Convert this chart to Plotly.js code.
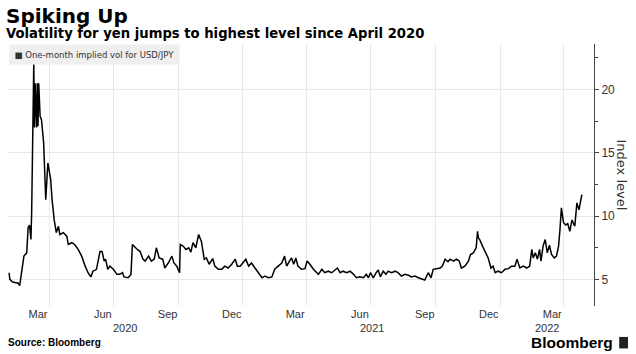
<!DOCTYPE html>
<html>
<head>
<meta charset="utf-8">
<script src="https://cdn.plot.ly/plotly-3.0.1.min.js"></script>
<style>html,body{margin:0;padding:0;background:#fff;}#chart{width:636px;height:354px;}</style>
</head>
<body>
<div id="chart"></div>
<script>
// One-month implied volatility for USD/JPY
const dates = [
"2020-02-04","2020-02-05","2020-02-09","2020-02-14","2020-02-17","2020-02-19","2020-02-22","2020-02-25","2020-02-29",
"2020-03-02","2020-03-04","2020-03-06","2020-03-07","2020-03-08","2020-03-10","2020-03-11","2020-03-12","2020-03-14",
"2020-03-15","2020-03-16","2020-03-17","2020-03-19","2020-03-21","2020-03-24","2020-03-25","2020-03-27","2020-03-30",
"2020-04-01","2020-04-03","2020-04-05","2020-04-08","2020-04-11","2020-04-14","2020-04-16","2020-04-21","2020-04-26",
"2020-04-28","2020-05-03","2020-05-07","2020-05-12","2020-05-17","2020-05-22","2020-05-26","2020-05-30","2020-06-02",
"2020-06-07","2020-06-12","2020-06-15","2020-06-18","2020-06-20","2020-06-23","2020-06-26","2020-07-01","2020-07-06",
"2020-07-10","2020-07-14","2020-07-16","2020-07-22","2020-07-26","2020-07-28","2020-08-01","2020-08-04","2020-08-08",
"2020-08-12","2020-08-15","2020-08-20","2020-08-24","2020-08-28","2020-08-31","2020-09-04","2020-09-09","2020-09-12",
"2020-09-17","2020-09-22","2020-09-25","2020-09-29","2020-10-03","2020-10-04","2020-10-08","2020-10-12","2020-10-16",
"2020-10-19","2020-10-22","2020-10-26","2020-10-30","2020-11-03","2020-11-07","2020-11-10","2020-11-14","2020-11-19",
"2020-11-22","2020-11-27","2020-12-02","2020-12-06","2020-12-11","2020-12-16","2020-12-21","2020-12-24","2020-12-28",
"2021-01-01","2021-01-05","2021-01-09","2021-01-13","2021-01-18","2021-01-23","2021-01-28","2021-02-01","2021-02-06",
"2021-02-11","2021-02-15","2021-02-20","2021-02-25","2021-03-01","2021-03-04","2021-03-08","2021-03-11","2021-03-14",
"2021-03-17","2021-03-20","2021-03-25","2021-03-30","2021-04-02","2021-04-06","2021-04-11","2021-04-18","2021-04-23",
"2021-04-27","2021-05-02","2021-05-07","2021-05-12","2021-05-15","2021-05-19","2021-05-23","2021-05-28","2021-06-02",
"2021-06-07","2021-06-11","2021-06-16","2021-06-21","2021-06-25","2021-06-28","2021-07-01","2021-07-05","2021-07-09",
"2021-07-12","2021-07-15","2021-07-19","2021-07-23","2021-07-26","2021-07-31","2021-08-05","2021-08-09","2021-08-14",
"2021-08-19","2021-08-24","2021-08-28","2021-09-02","2021-09-07","2021-09-12","2021-09-16","2021-09-21","2021-09-25",
"2021-09-28","2021-10-03","2021-10-08","2021-10-11","2021-10-15","2021-10-19","2021-10-22","2021-10-27","2021-10-31",
"2021-11-04","2021-11-07","2021-11-12","2021-11-17","2021-11-20","2021-11-24","2021-11-28","2021-11-30","2021-12-01",
"2021-12-03","2021-12-07","2021-12-11","2021-12-15","2021-12-19","2021-12-22","2021-12-25","2021-12-29","2022-01-03",
"2022-01-08","2022-01-13","2022-01-17","2022-01-22","2022-01-25","2022-01-29","2022-02-03","2022-02-08","2022-02-12",
"2022-02-15","2022-02-17","2022-02-20","2022-02-23","2022-02-26","2022-02-28","2022-03-03","2022-03-06","2022-03-09",
"2022-03-12","2022-03-15","2022-03-19","2022-03-22","2022-03-25","2022-03-27","2022-03-29","2022-04-01","2022-04-04",
"2022-04-07","2022-04-10","2022-04-13","2022-04-15","2022-04-17","2022-04-20","2022-04-23","2022-04-27"
];
const vol = [
5.53,5.0,4.8,4.75,4.7,4.5,5.8,6.84,7.1,
9.1,9.3,8.15,10.3,16.0,22.0,17.0,20.5,17.0,
20.5,17.1,20.5,17.9,17.6,15.8,13.9,11.3,14.2,
13.4,12.9,11.3,9.7,8.7,9.2,8.55,8.7,8.4,
7.76,7.9,7.76,7.37,6.84,6.05,5.53,5.2,5.65,
5.8,7.2,7.2,6.45,6.6,5.8,6.05,5.8,5.4,
5.4,5.53,5.2,5.13,5.4,7.76,7.5,7.37,7.2,
6.6,6.45,6.84,6.45,6.6,7.5,6.7,6.6,5.9,
6.3,6.84,6.3,6.05,5.53,7.76,7.63,7.37,7.5,
7.15,7.9,7.5,8.55,8.0,6.6,6.7,6.2,6.65,
6.05,5.8,5.8,6.05,5.9,6.2,6.6,6.05,6.05,
6.3,6.6,6.05,6.3,5.9,5.53,5.13,5.27,5.13,
5.2,5.8,6.05,6.3,6.84,6.05,6.45,6.7,6.2,
6.7,6.05,5.8,5.85,6.45,6.2,5.8,5.4,5.8,
5.53,5.65,5.53,5.8,5.9,5.53,5.65,5.53,5.65,
5.4,5.13,5.2,5.13,5.4,5.13,5.53,5.13,5.53,
5.75,5.2,5.65,5.4,5.65,5.53,5.65,5.53,5.27,
5.4,5.33,5.2,5.27,5.13,5.0,4.95,5.53,5.13,
5.8,5.85,5.9,6.05,6.6,6.4,6.6,6.45,6.6,
6.45,5.9,6.05,6.45,6.97,7.1,7.5,8.8,8.3,
8.15,7.63,7.1,6.7,5.9,6.05,5.53,5.65,5.53,
5.8,5.85,6.05,6.05,6.6,5.9,6.05,5.9,6.05,
7.37,6.7,7.1,6.6,7.37,6.45,7.63,8.15,7.1,
7.7,6.97,6.7,6.84,7.63,8.94,10.65,9.5,9.3,
9.4,8.8,9.7,9.5,9.2,11.05,10.5,11.7
];
const seriesName = "One-month implied vol for USD/JPY";

// Axis labels
const monthTickVals = ["2020-03-16","2020-06-16","2020-09-16","2020-12-16","2021-03-16","2021-06-16","2021-09-16","2021-12-16","2022-03-16"];
const monthTickText = ["Mar","Jun","Sep","Dec","Mar","Jun","Sep","Dec","Mar"];
const gridDates = ["2020-04-01","2020-07-01","2020-10-01","2021-01-01","2021-04-01","2021-07-01","2021-10-01","2022-01-01","2022-04-01"];
const yearLabels = ["2020","2021","2022"];
const yearPos = ["2020-07-18","2021-07-03","2022-03-09"];
const yTicks = [5,10,15,20];
const yMinorTicks = [7.5,12.5,17.5,22.5];

const txt = "#333333";
const font = "Liberation Sans, Arial, sans-serif";
const wide = "DejaVu Sans, sans-serif";

const trace = {
  x: dates, y: vol, type: "scatter", mode: "lines",
  line: {color: "#000000", width: 1.5},
  name: seriesName, showlegend: false, hoverinfo: "skip"
};

const annotations = [
  {text: "<b>Spiking Up</b>", xref: "paper", yref: "paper", x: -0.006, y: 1.16, xanchor: "left", yanchor: "top", showarrow: false, font: {family: wide, size: 20, color: "#000"}},
  {text: "<b>Volatility for yen jumps to highest level since April 2020</b>", xref: "paper", yref: "paper", x: -0.006, y: 1.077, xanchor: "left", yanchor: "top", showarrow: false, font: {family: wide, size: 13.2, color: "#000"}},
  {text: "■ " + seriesName, xref: "paper", yref: "paper", x: 0.001, y: 1.0, xanchor: "left", yanchor: "top", showarrow: false, bgcolor: "#efefef", borderpad: 4.5, font: {family: wide, size: 8.5, color: txt}},
  {text: "<b>Source: Bloomberg</b>", xref: "paper", yref: "paper", x: -0.003, y: -0.141, xanchor: "left", yanchor: "middle", showarrow: false, font: {family: font, size: 10, color: "#000"}},
  {text: "<b>Bloomberg</b>", xref: "paper", yref: "paper", x: 1.036, y: -0.138, xanchor: "right", yanchor: "middle", showarrow: false, font: {family: font, size: 15.5, color: "#000"}},
  {text: "Index level", xref: "paper", yref: "paper", x: 1.047, y: 0.5, xanchor: "center", yanchor: "middle", textangle: 90, showarrow: false, font: {family: wide, size: 13, color: txt}}
];
yearLabels.forEach((t, i) => annotations.push({
  text: t, xref: "x", yref: "paper", x: yearPos[i], y: -0.084, xanchor: "center", yanchor: "middle", showarrow: false,
  font: {family: font, size: 11, color: txt}
}));

const layout = {
  width: 636, height: 354,
  margin: {l: 8, r: 42, t: 44, b: 48},
  paper_bgcolor: "#ffffff", plot_bgcolor: "#ffffff",
  font: {family: font, color: txt, size: 11},
  showlegend: false,
  xaxis: {
    type: "date",
    range: ["2020-02-02 10:00", "2022-05-14 07:00"],
    tickmode: "array", tickvals: monthTickVals, ticktext: monthTickText,
    showgrid: false, ticks: "", showline: false, zeroline: false,
    tickfont: {family: font, size: 11, color: txt},
    minor: {tickmode: "array", tickvals: gridDates, showgrid: true, gridcolor: "#e8e8e8", gridwidth: 1, ticks: ""},
    fixedrange: true
  },
  yaxis: {
    side: "right",
    range: [2.9, 23.6],
    tickmode: "array", tickvals: yTicks,
    ticks: "outside", ticklen: 4, tickcolor: "#444", tickwidth: 1,
    showline: true, linecolor: "#444", linewidth: 1,
    showgrid: true, gridcolor: "#e8e8e8", zeroline: false,
    tickfont: {family: font, size: 12, color: txt},
    minor: {tickmode: "array", tickvals: yMinorTicks, ticks: "outside", ticklen: 3, tickcolor: "#444", showgrid: false},
    fixedrange: true
  },
  shapes: [
    {type: "rect", xref: "paper", yref: "paper", x0: 1.043, x1: 1.058, y0: -0.162, y1: -0.118, fillcolor: "#222", line: {width: 0}}
  ],
  annotations: annotations
};

Plotly.newPlot("chart", [trace], layout, {displayModeBar: false, staticPlot: true});
</script>
</body>
</html>
